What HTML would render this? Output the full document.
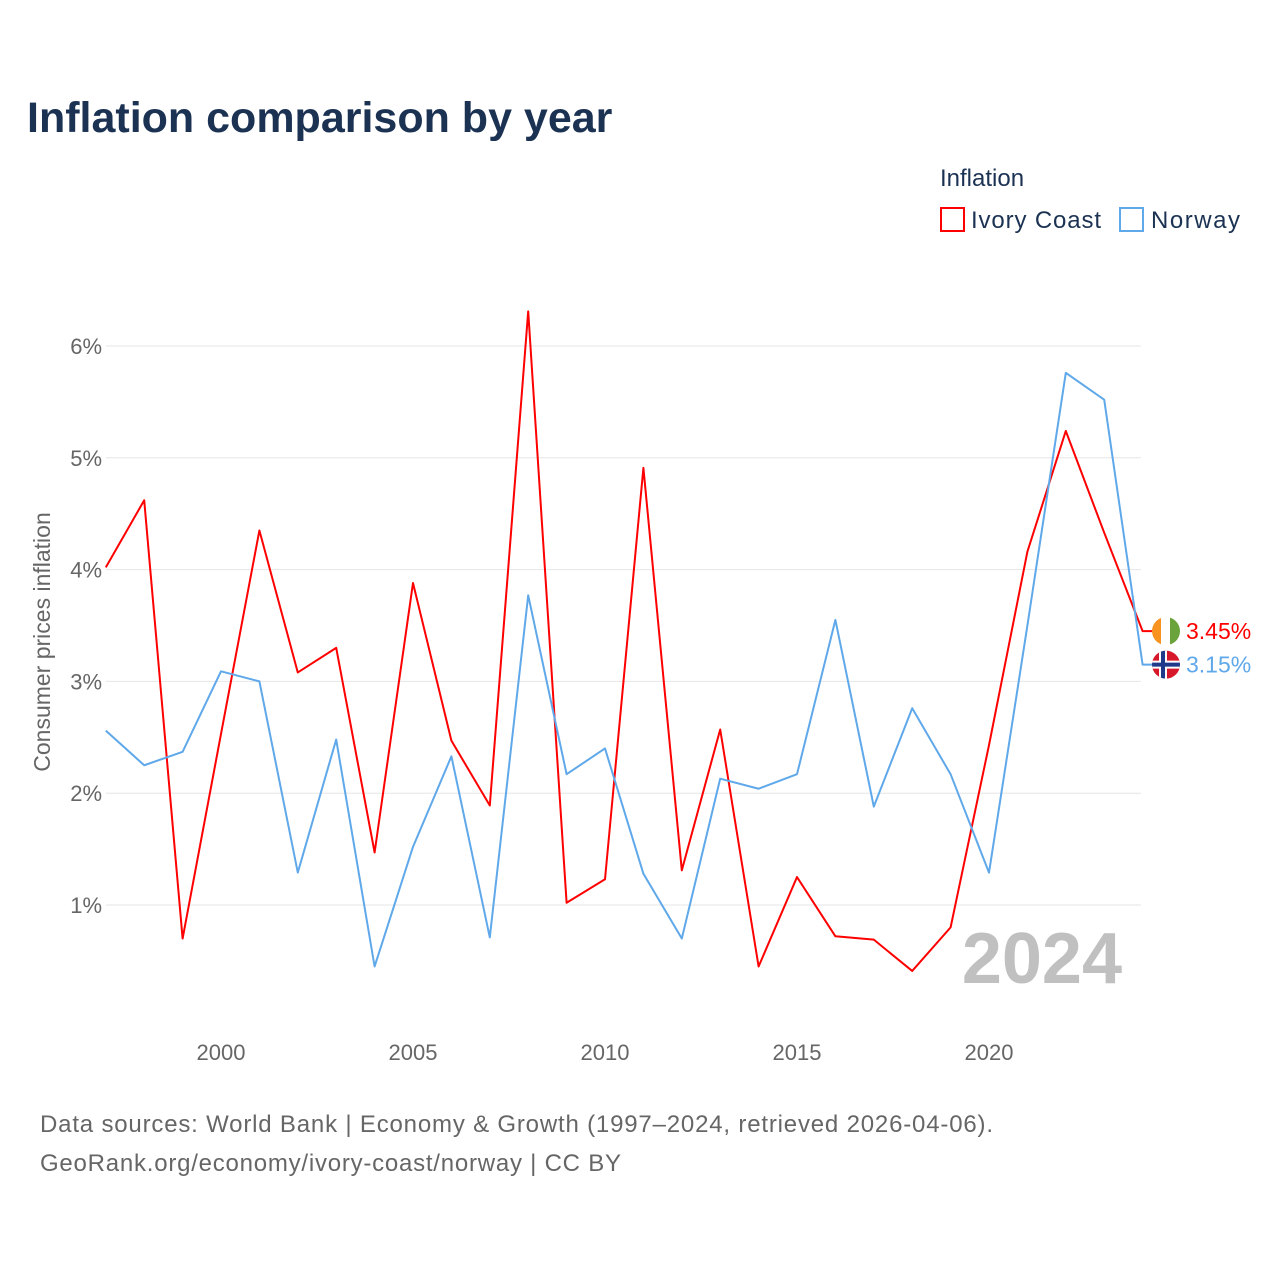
<!DOCTYPE html>
<html><head><meta charset="utf-8"><style>
body{margin:0;background:#fff;font-family:"Liberation Sans",sans-serif;}
</style></head><body>
<svg width="1280" height="1280" xmlns="http://www.w3.org/2000/svg">
<defs><clipPath id="cc"><circle cx="0" cy="0" r="14"/></clipPath></defs>
<rect width="1280" height="1280" fill="#fff"/>
<text x="27" y="132" font-size="43" font-weight="bold" fill="#1b3253">Inflation comparison by year</text>
<text x="940" y="186" font-size="24" fill="#1b3253">Inflation</text>
<g><rect x="941" y="208" width="23" height="23" fill="none" stroke="#ff0000" stroke-width="2"/><text x="971" y="228" font-size="24" fill="#1b3253" textLength="130">Ivory Coast</text></g>
<g><rect x="1120" y="208" width="23" height="23" fill="none" stroke="#5fa8ea" stroke-width="2"/><text x="1151" y="228" font-size="24" fill="#1b3253" textLength="89">Norway</text></g>
<g id="grid"></g><g id="xt"></g><g id="lines"></g>
<text x="1122" y="983" font-size="72" font-weight="bold" fill="#c0c0c0" text-anchor="end">2024</text>
<text transform="translate(50,642) rotate(-90)" font-size="23" fill="#666" text-anchor="middle">Consumer prices inflation</text>
<text x="40" y="1132" font-size="24" fill="#666" textLength="953">Data sources: World Bank | Economy &amp; Growth (1997–2024, retrieved 2026-04-06).</text>
<text x="40" y="1171" font-size="24" fill="#666" textLength="581">GeoRank.org/economy/ivory-coast/norway | CC BY</text>
</svg>
<script>
const years=[1997,1998,1999,2000,2001,2002,2003,2004,2005,2006,2007,2008,2009,2010,2011,2012,2013,2014,2015,2016,2017,2018,2019,2020,2021,2022,2023,2024];
const ivoryCoast=[4.02,4.62,0.70,2.53,4.35,3.08,3.30,1.47,3.88,2.47,1.89,6.31,1.02,1.23,4.91,1.31,2.57,0.45,1.25,0.72,0.69,0.41,0.80,2.43,4.16,5.24,4.33,3.45];
const norway=[2.56,2.25,2.37,3.09,3.00,1.29,2.48,0.45,1.52,2.33,0.71,3.77,2.17,2.40,1.28,0.70,2.13,2.04,2.17,3.55,1.88,2.76,2.17,1.29,3.50,5.76,5.52,3.15];
const yTicks=[1,2,3,4,5,6];
const xTicks=[2000,2005,2010,2015,2020];
const NS="http://www.w3.org/2000/svg";
const X=y=>221+(y-2000)*38.4;
const Y=v=>1016.8-v*111.8;
function mk(t,a,p){const e=document.createElementNS(NS,t);for(const k in a)e.setAttribute(k,a[k]);p.appendChild(e);return e;}
const g=document.getElementById('grid'),xt=document.getElementById('xt'),L=document.getElementById('lines');
yTicks.forEach(v=>{
 const l=mk('line',{x1:106,x2:1141,y1:Y(v),y2:Y(v),stroke:'#e6e6e6','stroke-width':1},g);
 
 
 const t=mk('text',{x:102,y:Y(v)+8,'font-size':22,fill:'#666','text-anchor':'end'},g);t.textContent=v+'%';
 
 
});
xTicks.forEach(v=>{
 const t=mk('text',{x:X(v),y:1060,'font-size':22,fill:'#666','text-anchor':'middle'},xt);t.textContent=v;
 
 
});
function series(vals,col,name){
 const pts=vals.map((v,i)=>X(years[i])+','+Y(v));
 const last=vals[vals.length-1];
 pts.push((X(years[years.length-1])+12)+','+Y(last));
 const p=mk('polyline',{points:pts.join(' '),fill:'none',stroke:col,'stroke-width':2,'stroke-linejoin':'round'},L);
 
 
 const t=mk('text',{x:1186,y:Y(last)+8,'font-size':23,fill:col},L);t.textContent=last.toFixed(2)+'%';
 
 
 return Y(last);
}
const yi=series(ivoryCoast,'#ff0000','ivory-coast');
const yn=series(norway,'#5fa8ea','norway');
const fi=mk('g',{transform:'translate(1166,'+yi+')','clip-path':'url(#cc)'},L);


mk('rect',{x:-14,y:-14,width:10,height:28,fill:'#f7931e'},fi);
mk('rect',{x:-5,y:-14,width:10,height:28,fill:'#fff'},fi);
mk('rect',{x:4,y:-14,width:10,height:28,fill:'#6aa33b'},fi);
const fn=mk('g',{transform:'translate(1166,'+yn+')','clip-path':'url(#cc)'},L);


mk('rect',{x:-14,y:-14,width:28,height:28,fill:'#d7182a'},fn);
mk('rect',{x:-14,y:-4,width:28,height:8,fill:'#fff'},fn);
mk('rect',{x:-7,y:-14,width:8,height:28,fill:'#fff'},fn);
mk('rect',{x:-14,y:-2,width:28,height:4,fill:'#1f3a8a'},fn);
mk('rect',{x:-5,y:-14,width:4,height:28,fill:'#1f3a8a'},fn);
</script>
</body></html>
